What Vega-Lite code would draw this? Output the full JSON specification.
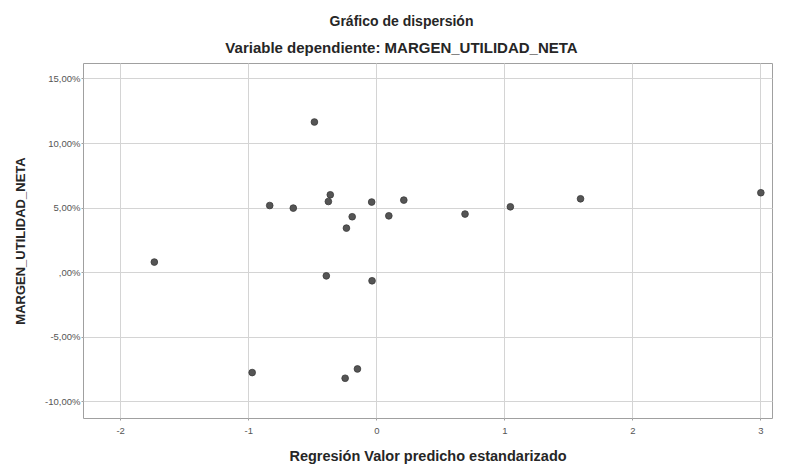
{
  "$schema": "https://vega.github.io/schema/vega-lite/v6.json",
  "autosize": {"type": "none"},
  "width": 689,
  "height": 355,
  "padding": {"left": 83, "top": 63, "right": 18, "bottom": 47},
  "background": "white",
  "config": {
    "font": "Liberation Sans",
    "view": {"stroke": "#a0a0a0", "strokeWidth": 1}
  },
  "title": {
    "text": "Gráfico de dispersión",
    "subtitle": "Variable dependiente: MARGEN_UTILIDAD_NETA",
    "anchor": "middle",
    "frame": "group",
    "dx": -26,
    "offset": 7,
    "fontSize": 14,
    "fontWeight": "bold",
    "color": "#262626",
    "subtitleFontSize": 15,
    "subtitleFontWeight": "bold",
    "subtitleColor": "#262626",
    "subtitlePadding": 12,
    "font": "Liberation Sans",
    "subtitleFont": "Liberation Sans"
  },
  "data": {
    "values": [
      {"pred": -0.483, "margen": 11.63},
      {"pred": -0.359, "margen": 5.99},
      {"pred": -0.374, "margen": 5.47},
      {"pred": -0.832, "margen": 5.16},
      {"pred": -0.648, "margen": 4.96},
      {"pred": -0.036, "margen": 5.43},
      {"pred": 0.215, "margen": 5.58},
      {"pred": -0.188, "margen": 4.29},
      {"pred": 0.098, "margen": 4.36},
      {"pred": -0.233, "margen": 3.41},
      {"pred": 0.693, "margen": 4.5},
      {"pred": 1.047, "margen": 5.06},
      {"pred": 1.595, "margen": 5.68},
      {"pred": 3.003, "margen": 6.15},
      {"pred": -1.733, "margen": 0.78},
      {"pred": -0.39, "margen": -0.29},
      {"pred": -0.033, "margen": -0.67},
      {"pred": -0.969, "margen": -7.78},
      {"pred": -0.147, "margen": -7.5},
      {"pred": -0.243, "margen": -8.22}
    ]
  },
  "mark": {"type": "point", "filled": true, "size": 45, "color": "#555555", "opacity": 1, "stroke": "#3a3a3a", "strokeWidth": 0.8},
  "encoding": {
    "x": {
      "field": "pred",
      "type": "quantitative",
      "scale": {"domain": [-2.29, 3.09], "nice": false, "zero": false},
      "axis": {
        "values": [-2, -1, 0, 1, 2, 3],
        "labelExpr": "replace(format(datum.value, 'd'), '−', '-')",
        "title": "Regresión Valor predicho estandarizado",
        "titleFontSize": 14.5,
        "titleFontWeight": "bold",
        "titleColor": "#262626",
        "titlePadding": 15,
        "labelFontSize": 9.5,
        "labelColor": "#555555",
        "labelPadding": 5,
        "tickSize": 2,
        "tickColor": "#a0a0a0",
        "domain": false,
        "grid": true,
        "gridColor": "#d4d4d4",
        "gridWidth": 1
      }
    },
    "y": {
      "field": "margen",
      "type": "quantitative",
      "scale": {"domain": [-11.3, 16.2], "nice": false, "zero": false},
      "axis": {
        "values": [-10, -5, 0, 5, 10, 15],
        "labelExpr": "datum.value == 0 ? ',00%' : replace(replace(format(datum.value, '.2f'), '.', ','), '−', '-') + '%'",
        "title": "MARGEN_UTILIDAD_NETA",
        "titleFontSize": 13,
        "titleFontWeight": "bold",
        "titleColor": "#262626",
        "titlePadding": 17,
        "labelFontSize": 9.5,
        "labelColor": "#555555",
        "labelPadding": 1,
        "tickSize": 2,
        "tickColor": "#a0a0a0",
        "domain": false,
        "grid": true,
        "gridColor": "#d4d4d4",
        "gridWidth": 1
      }
    }
  }
}
